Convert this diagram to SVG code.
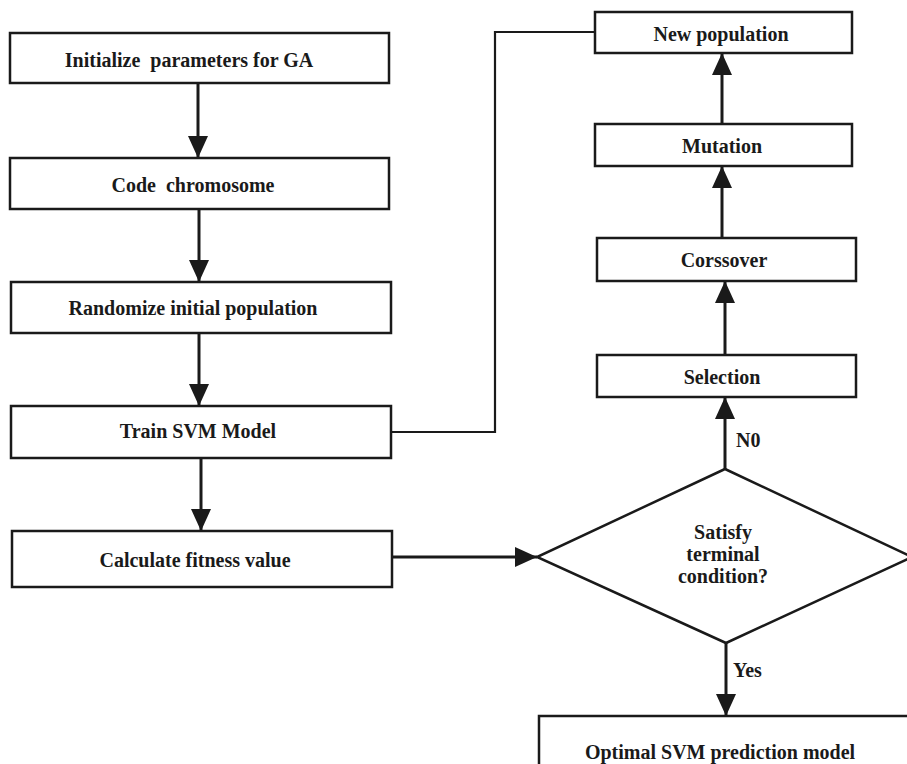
<svg xmlns="http://www.w3.org/2000/svg" width="907" height="764" viewBox="0 0 907 764">
<style>
.box{fill:#fff;stroke:#1a1a1a;stroke-width:2.5}
.t{font-family:"Liberation Serif","Times New Roman",serif;font-weight:bold;font-size:20px;fill:#1a1a1a;text-anchor:middle;white-space:pre}
.lbl{font-family:"Liberation Serif","Times New Roman",serif;font-weight:bold;font-size:20px;fill:#1a1a1a}
.c{fill:none;stroke:#1a1a1a;stroke-width:3}
.c2{fill:none;stroke:#1a1a1a;stroke-width:2.2}
</style>
<defs>
<marker id="ah" viewBox="0 0 22 20" refX="22" refY="10" markerWidth="22" markerHeight="20" markerUnits="userSpaceOnUse" orient="auto">
<path d="M0,0 L22,10 L0,20 Z" fill="#1a1a1a"/>
</marker>
</defs>
<rect width="907" height="764" fill="#fff"/>
<g id="connectors">
<line class="c" x1="198" y1="83" x2="198" y2="158" marker-end="url(#ah)"/>
<line class="c" x1="199" y1="209" x2="199" y2="282" marker-end="url(#ah)"/>
<line class="c" x1="199" y1="333" x2="199" y2="406" marker-end="url(#ah)"/>
<line class="c" x1="201" y1="458" x2="201" y2="531" marker-end="url(#ah)"/>
<polyline class="c2" points="391,432 495,432 495,32 595,32"/>
<line class="c" x1="392" y1="557" x2="537" y2="557" marker-end="url(#ah)"/>
<line class="c" x1="725" y1="469" x2="725" y2="397" marker-end="url(#ah)"/>
<line class="c" x1="725" y1="355" x2="725" y2="281" marker-end="url(#ah)"/>
<line class="c" x1="722" y1="238" x2="722" y2="166" marker-end="url(#ah)"/>
<line class="c" x1="722" y1="124" x2="722" y2="53" marker-end="url(#ah)"/>
<line class="c" x1="726" y1="643" x2="726" y2="716" marker-end="url(#ah)"/>
<text class="lbl" x="736" y="447">N0</text>
<text class="lbl" x="733" y="677">Yes</text>
</g>
<g id="init">
<rect class="box" x="10" y="33" width="379" height="50"/>
<text class="t" x="189" y="67">Initialize  parameters for GA</text>
</g>
<g id="code">
<rect class="box" x="10" y="158" width="379" height="51"/>
<text class="t" x="193" y="192">Code  chromosome</text>
</g>
<g id="randomize">
<rect class="box" x="11" y="282" width="380" height="51"/>
<text class="t" x="193" y="315">Randomize initial population</text>
</g>
<g id="train">
<rect class="box" x="11" y="406" width="380" height="52"/>
<text class="t" x="198" y="438">Train SVM Model</text>
</g>
<g id="fitness">
<rect class="box" x="12" y="531" width="380" height="56"/>
<text class="t" x="195" y="567">Calculate fitness value</text>
</g>
<g id="newpop">
<rect class="box" x="595" y="12" width="257" height="41"/>
<text class="t" x="721" y="41">New population</text>
</g>
<g id="mutation">
<rect class="box" x="595" y="124" width="257" height="42"/>
<text class="t" x="722" y="153">Mutation</text>
</g>
<g id="crossover">
<rect class="box" x="597" y="238" width="259" height="43"/>
<text class="t" x="724" y="267">Corssover</text>
</g>
<g id="selection">
<rect class="box" x="597" y="355" width="259" height="42"/>
<text class="t" x="722" y="384">Selection</text>
</g>
<g id="decision">
<polygon class="box" points="725,469 912,557 726,643 537,557"/>
<text class="t" x="723" y="539">Satisfy</text>
<text class="t" x="723" y="561">terminal</text>
<text class="t" x="723" y="583">condition?</text>
</g>
<g id="optimal">
<rect class="box" x="539" y="716" width="375" height="70"/>
<text class="t" x="720" y="759">Optimal SVM prediction model</text>
</g>
</svg>
